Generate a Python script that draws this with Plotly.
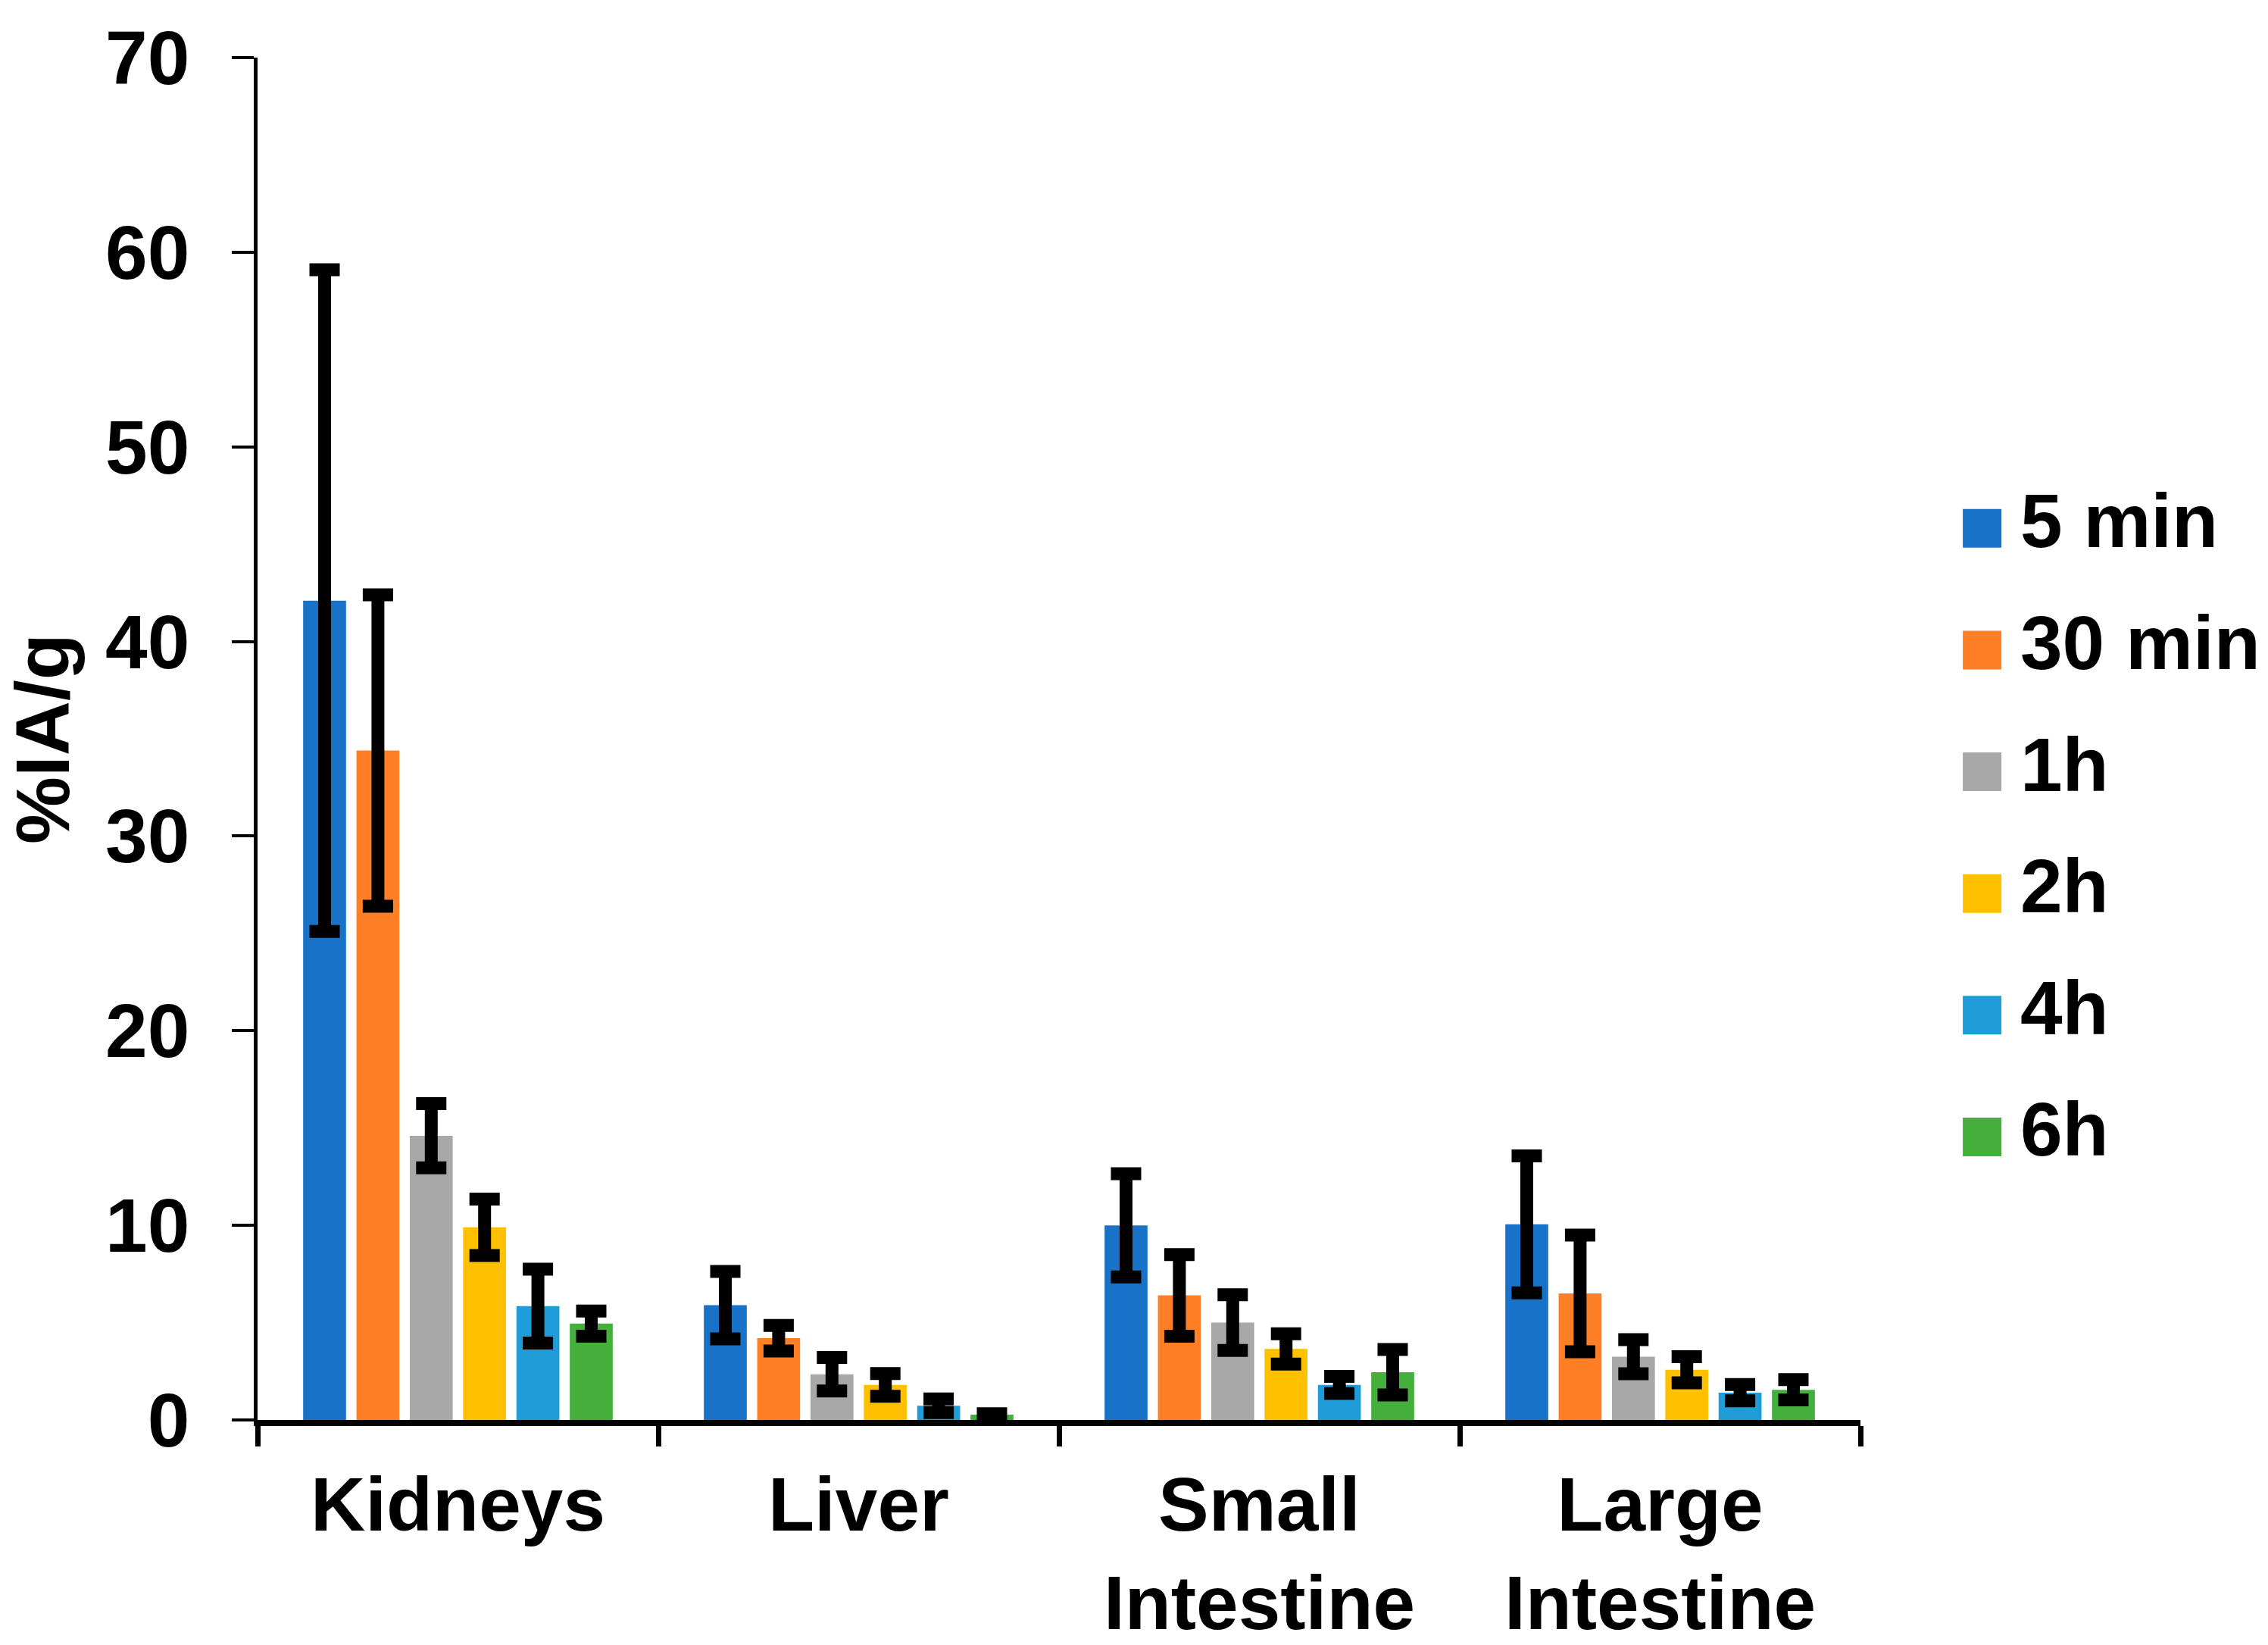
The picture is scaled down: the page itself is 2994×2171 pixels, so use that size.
import plotly.graph_objects as go

organs = ["Kidneys", "Liver", "Small<br>Intestine", "Large<br>Intestine"]
time_points = ["5 min", "30 min", "1h", "2h", "4h", "6h"]
colors = ["#1873C8", "#FF7F27", "#A8A8A8", "#FFC000", "#1E9DD8", "#44AF3A"]

# mean %IA/g per time point (one list per time point, order = organs)
mean_5min = [42.1, 5.9, 10.0, 10.05]
mean_30min = [34.4, 4.2, 6.4, 6.5]
mean_1h = [14.6, 2.35, 5.0, 3.25]
mean_2h = [9.9, 1.8, 3.65, 2.58]
mean_4h = [5.85, 0.73, 1.8, 1.4]
mean_6h = [4.95, 0.27, 2.45, 1.55]

# standard deviations
sd_5min = [17.0, 1.73, 2.65, 3.52]
sd_30min = [8.0, 0.66, 2.1, 3.0]
sd_1h = [1.65, 0.86, 1.43, 0.88]
sd_2h = [1.45, 0.58, 0.78, 0.67]
sd_4h = [1.9, 0.35, 0.44, 0.42]
sd_6h = [0.65, 0.05, 1.17, 0.52]

means = [mean_5min, mean_30min, mean_1h, mean_2h, mean_4h, mean_6h]
sds = [sd_5min, sd_30min, sd_1h, sd_2h, sd_4h, sd_6h]

legend_rows = list(range(len(time_points)))

FONT = "Liberation Sans, Arial, sans-serif"

fig = go.Figure()
for name, col, m, s in zip(time_points, colors, means, sds):
    fig.add_trace(go.Bar(
        x=organs, y=m, name=name, marker=dict(color=col, line=dict(width=0)),
        error_y=dict(type="data", array=s, visible=True, color="black",
                     thickness=17, width=20),
        showlegend=False,
    ))

# legend swatches and labels drawn as a scatter on hidden axes
fig.add_trace(go.Scatter(
    x=[0] * len(time_points), y=legend_rows, mode="markers",
    marker=dict(symbol="square", size=51, color=colors, line=dict(width=0)),
    xaxis="x2", yaxis="y2", showlegend=False, cliponaxis=False, hoverinfo="skip",
))
fig.add_trace(go.Scatter(
    x=[0] * len(time_points), y=legend_rows, mode="text", text=time_points,
    textposition="middle right",
    textfont=dict(family=FONT, size=100, color="black", weight="bold"),
    xaxis="x3", yaxis="y2", showlegend=False, cliponaxis=False, hoverinfo="skip",
))

W, H = 2994, 2171
L, R, T, B = 340, 0, 76, 295
pw = W - L - R

fig.update_layout(
    width=W, height=H,
    margin=dict(l=L, r=R, t=T, b=B),
    paper_bgcolor="white", plot_bgcolor="white",
    barmode="group", bargap=0.2015, bargroupgap=0.195,
    showlegend=False,
    font=dict(family=FONT, size=100, color="black"),
    xaxis=dict(
        domain=[0, 2116 / pw], type="category",
        showline=True, linecolor="black", linewidth=8,
        ticks="outside", tickson="boundaries", ticklen=27, tickwidth=7, tickcolor="black",
        tickfont=dict(family=FONT, size=100, color="black", weight="bold"),
        showgrid=False, zeroline=False, ticklabelstandoff=18,
    ),
    yaxis=dict(
        range=[0, 70], dtick=10, tick0=0,
        showline=True, linecolor="black", linewidth=4.5,
        ticks="outside", ticklen=29, tickwidth=4, tickcolor="black",
        tickfont=dict(family=FONT, size=100, color="black", weight="bold"),
        showgrid=False, zeroline=False, ticklabelstandoff=36,
        title=dict(text="%IA/g", font=dict(family=FONT, size=100, color="black", weight="bold"),
                   standoff=39),
    ),
    xaxis2=dict(domain=[0.8478, 0.8678], range=[-1, 1], visible=False, anchor="y2"),
    xaxis3=dict(domain=[(2667 - L) / pw, 1], range=[0, 1], visible=False, anchor="y2"),
    yaxis2=dict(domain=[0, 1], range=[7.326, -3.868], visible=False, anchor="x2"),
)

fig.write_html("out.html", config={"displayModeBar": False},
               post_script="document.body.style.margin='0px';")
